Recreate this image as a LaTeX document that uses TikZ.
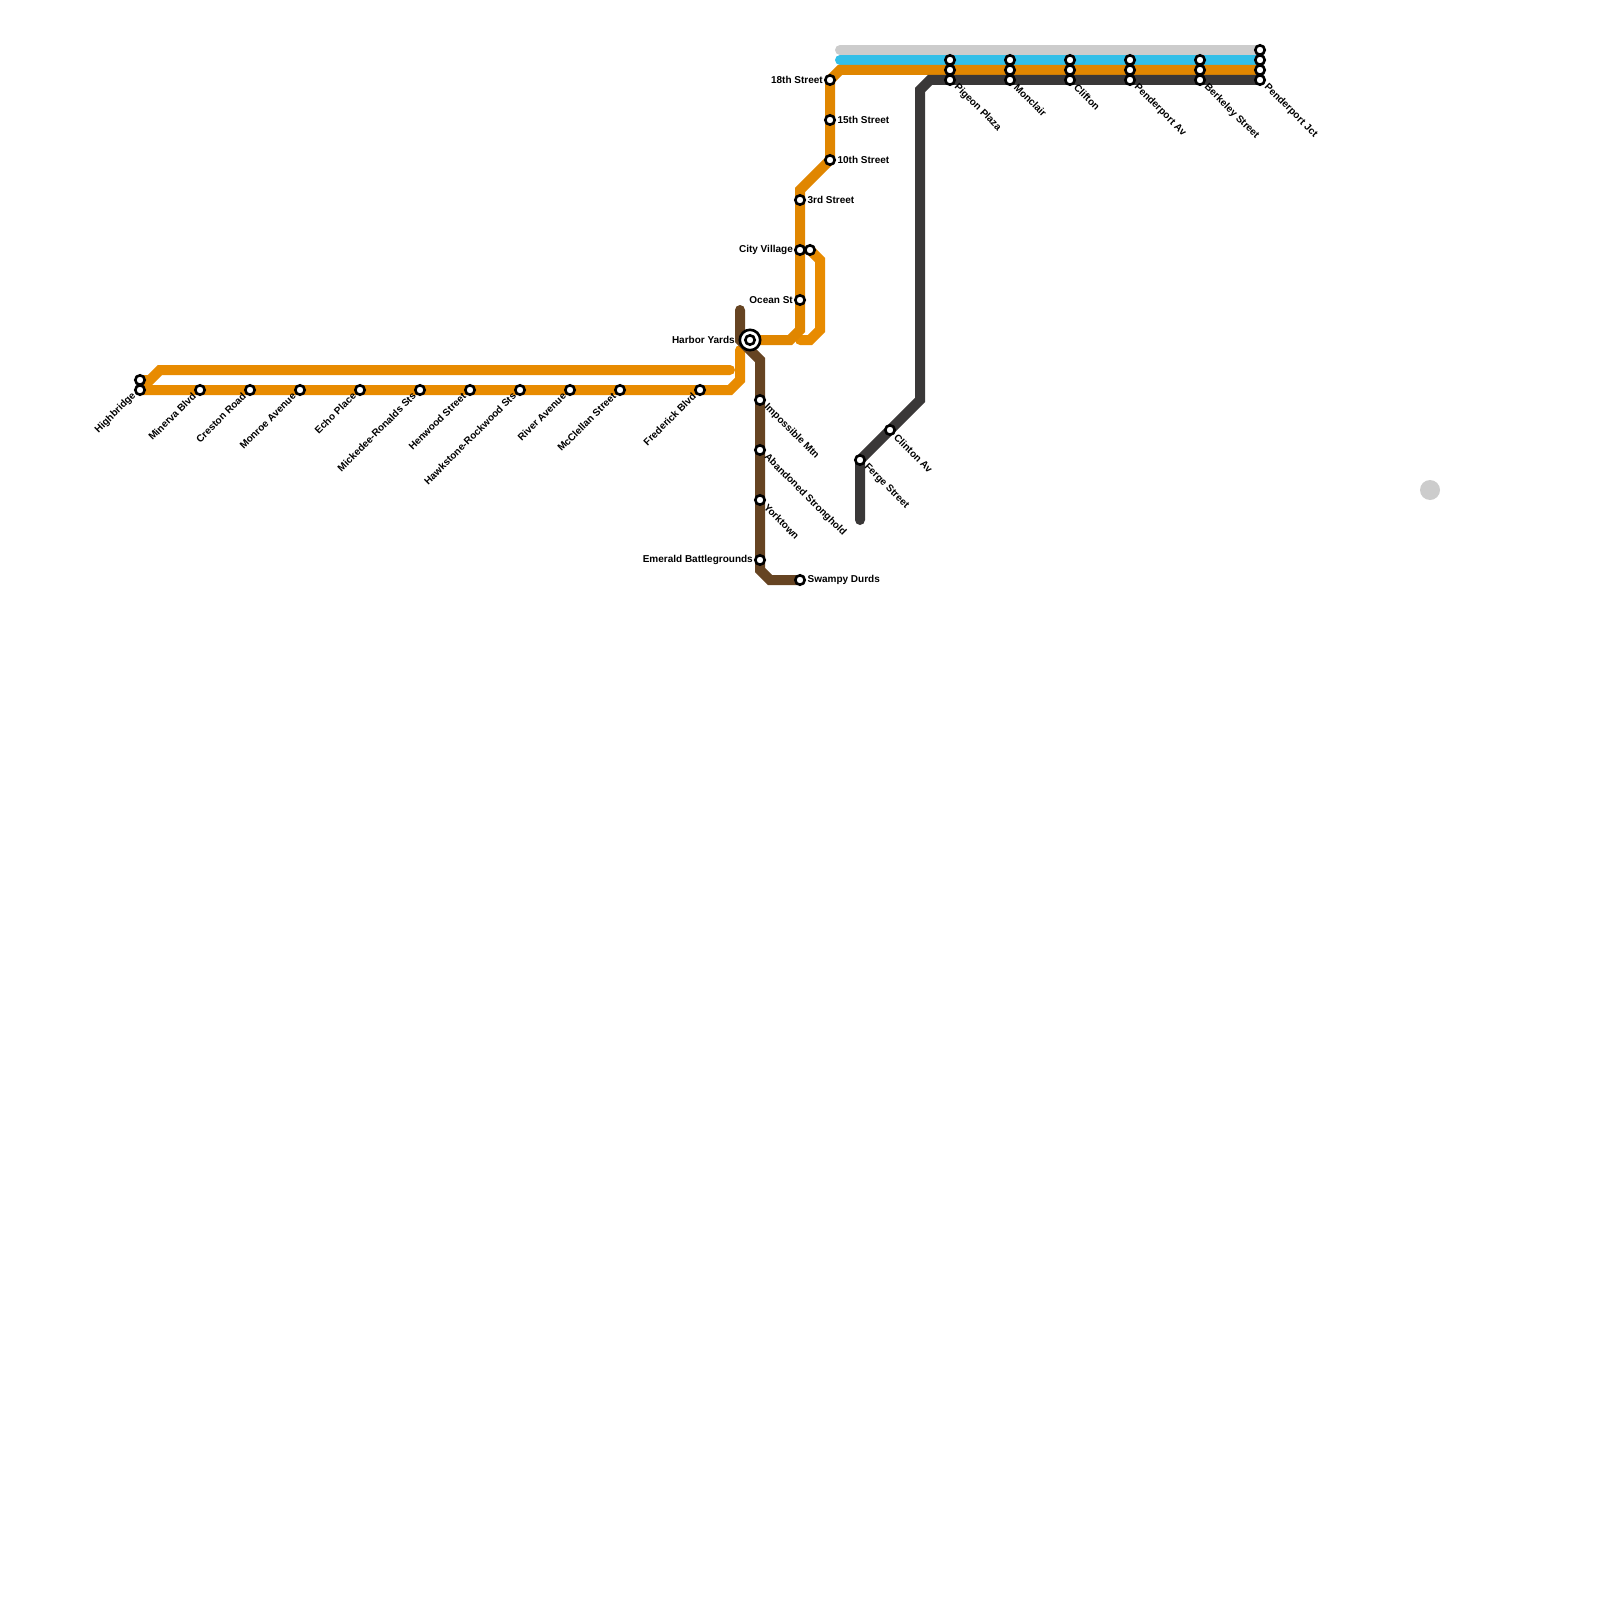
\documentclass[tikz,border=0pt]{standalone}
\usepackage{fontspec}
\setmainfont{Liberation Sans}
\usepackage{xcolor}
\usetikzlibrary{backgrounds}

\definecolor{lineorange}{HTML}{E08600}
\definecolor{linebright}{HTML}{E88B00}
\definecolor{lineblue}{HTML}{33BFE8}
\definecolor{linegrey}{HTML}{CCCCCC}
\definecolor{linedark}{HTML}{3A3838}
\definecolor{linebrown}{HTML}{664422}

\begin{document}
\begin{tikzpicture}[
  x=1pt,
  y=-1pt,
  every node/.style={font=\bfseries\fontsize{10}{12}\selectfont},
  stn/.style={circle, draw=black, fill=white, line width=2.6pt, minimum size=9.4pt, inner sep=0pt},
  hubout/.style={circle, draw=black, fill=white, line width=2.6pt, minimum size=20.4pt, inner sep=0pt},
  tubeline/.style={line width=10pt, line cap=round, line join=miter},
  labl/.style={inner sep=0pt, anchor=east, xshift=-7pt, yshift=0.4pt},
  labr/.style={inner sep=0pt, anchor=west, xshift=7.4pt, yshift=0.4pt},
  labdn/.style={inner sep=0pt, anchor=west, xshift=5.7pt, yshift=-5.7pt, rotate=-45},
  labup/.style={inner sep=0pt, anchor=east, xshift=-5.7pt, yshift=-4.3pt, rotate=45},
]

\useasboundingbox (0,0) rectangle (1600,1600);

% Helper macro: name, x, y, label style, label text.
\newcommand{\station}[5]{%
  \node[stn] (#1) at (#2,#3) {};
  \node[#4] (#1-lab) at (#1) {#5};
}

% West branch.
\node[stn] (highbridge-b) at (140,380) {};
\station{highbridge}{140}{390}{labup}{Highbridge}
\station{minerva}{200}{390}{labup}{Minerva Blvd}
\station{creston}{250}{390}{labup}{Creston Road}
\station{monroe}{300}{390}{labup}{Monroe Avenue}
\station{echo}{360}{390}{labup}{Echo Place}
\station{mickedee}{420}{390}{labup}{Mickedee-Ronalds Sts}
\station{henwood}{470}{390}{labup}{Henwood Street}
\station{hawkstone}{520}{390}{labup}{Hawkstone-Rockwood Sts}
\station{river}{570}{390}{labup}{River Avenue}
\station{mcclellan}{620}{390}{labup}{McClellan Street}
\station{frederick}{700}{390}{labup}{Frederick Blvd}

% Hub.
\node[hubout] (harbor) at (750,340) {};
\node[stn] (harbor-in) at (750,340) {};
\node[labl, xshift=-8pt] (harbor-lab) at (harbor) {Harbor Yards};

% North branch.
\station{st18}{830}{80}{labl}{18th Street}
\station{st15}{830}{120}{labr}{15th Street}
\station{st10}{830}{160}{labr}{10th Street}
\station{st3}{800}{200}{labr}{3rd Street}
\station{cityvillage}{800}{250}{labl}{City Village}
\node[stn] (cityvillage-b) at (810,250) {};
\station{ocean}{800}{300}{labl}{Ocean St}

% South branch.
\station{impossible}{760}{400}{labdn}{Impossible Mtn}
\station{abandoned}{760}{450}{labdn}{Abandoned Stronghold}
\station{yorktown}{760}{500}{labdn}{Yorktown}
\station{emerald}{760}{560}{labl}{Emerald Battlegrounds}
\station{swampy}{800}{580}{labr}{Swampy Durds}

% Dark branch.
\station{clinton}{890}{430}{labdn}{Clinton Av}
\station{ferge}{860}{460}{labdn}{Ferge Street}

% Top stations, three in a column.
\foreach \nm/\lab/\xx in {pigeon/Pigeon Plaza/950, monclair/Monclair/1010, clifton/Clifton/1070,
    penderav/Penderport Av/1130, berkeley/Berkeley Street/1200, penderjct/Penderport Jct/1260} {
  \node[stn] (\nm-a) at (\xx,60) {};
  \node[stn] (\nm-b) at (\xx,70) {};
  \station{\nm}{\xx}{80}{labdn}{\lab}
}
\node[stn] (penderjct-top) at (1260,50) {};

% Lone dot.
\node[circle, fill=linegrey, minimum size=20pt, inner sep=0pt] (dot) at (1430,490) {};

% Bends and free ends.
\coordinate (w1) at (150,380);
\coordinate (w2) at (160,370);
\coordinate (w3) at (730,370);
\coordinate (w4) at (730,390);
\coordinate (w5) at (740,380);
\coordinate (w6) at (740,350);
\coordinate (n1) at (790,340);
\coordinate (n2) at (800,330);
\coordinate (n3) at (800,190);
\coordinate (n4) at (830,160);
\coordinate (n5) at (840,70);
\coordinate (l1) at (820,260);
\coordinate (l2) at (820,330);
\coordinate (l3) at (810,340);
\coordinate (l4) at (800,340);
\coordinate (g1) at (840,50);
\coordinate (b1) at (840,60);
\coordinate (d1) at (930,80);
\coordinate (d2) at (920,90);
\coordinate (d3) at (920,400);
\coordinate (d4) at (860,520);
\coordinate (r1) at (740,310);
\coordinate (r2) at (740,340);
\coordinate (r3) at (760,360);
\coordinate (r4) at (760,570);
\coordinate (r5) at (770,580);

% Lines, under the stations.
\begin{scope}[on background layer]
  \draw[tubeline, linegrey] (g1) -- (penderjct-top.center);
  \draw[tubeline, lineblue] (b1) -- (penderjct-a.center);
  \draw[tubeline, linebright] (highbridge-b.center) -- (w1) -- (w2) -- (w3);
  \draw[tubeline, linebright] (highbridge.center) -- (w4) -- (w5) -- (w6);
  \draw[tubeline, linebrown] (r1) -- (r2) -- (r3) -- (r4) -- (r5) -- (swampy.center);
  \draw[tubeline, linebright] (cityvillage-b.center) -- (l1) -- (l2) -- (l3) -- (l4);
  \draw[tubeline, lineorange] (harbor.center) -- (n1) -- (n2) -- (n3) -- (n4) -- (st18.center) -- (n5) -- (penderjct-b.center);
  \draw[tubeline, linedark] (penderjct.center) -- (d1) -- (d2) -- (d3) -- (ferge.center) -- (d4);
\end{scope}

\end{tikzpicture}
\end{document}
